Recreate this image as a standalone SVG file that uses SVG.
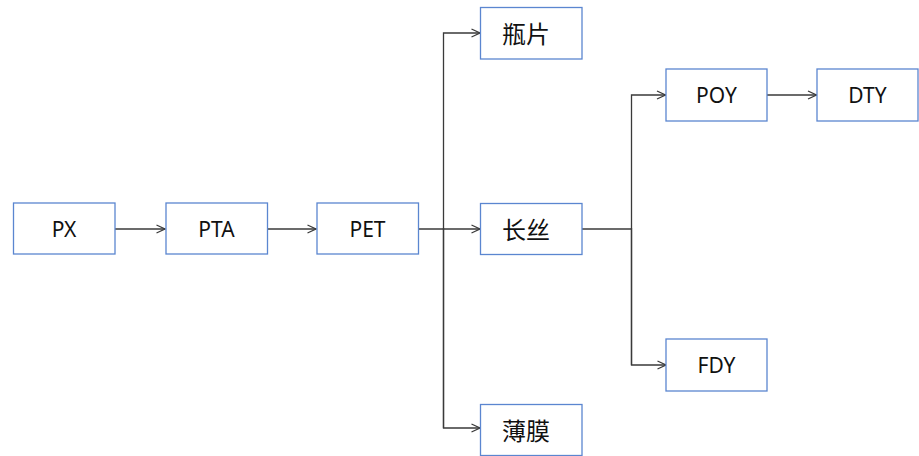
<svg xmlns="http://www.w3.org/2000/svg" width="919" height="456" viewBox="0 0 919 456">
<style>
.box{fill:#fff;stroke:#5b86d0;stroke-width:1.3}
.t{font-family:"Noto Sans","Noto Sans CJK SC",sans-serif;font-size:21px;fill:#111;text-anchor:middle;dominant-baseline:central}
.zh{font-size:24px}
.c{fill:none;stroke:#3a3a3a;stroke-width:1.3}
</style>
<defs>
<marker id="a" viewBox="0 0 10 10" refX="9.5" refY="5" markerWidth="10" markerHeight="10" markerUnits="userSpaceOnUse" orient="auto">
<path d="M1,1 L9.5,5 L1,9" fill="none" stroke="#3a3a3a" stroke-width="1.3"/>
</marker>
</defs>
<rect width="919" height="456" fill="#fff"/>
<g id="connectors">
<path class="c" d="M115,229 H165" marker-end="url(#a)"/>
<path class="c" d="M267,229 H316" marker-end="url(#a)"/>
<path class="c" d="M418,229 H480" marker-end="url(#a)"/>
<path class="c" d="M443.5,428 V33 H480" marker-end="url(#a)"/>
<path class="c" d="M443.5,228 V428 H480" marker-end="url(#a)"/>
<path class="c" d="M582,229 H631.5"/>
<path class="c" d="M631.5,365 V95 H665.5" marker-end="url(#a)"/>
<path class="c" d="M631.5,228 V365 H666" marker-end="url(#a)"/>
<path class="c" d="M767,95 H816.5" marker-end="url(#a)"/>
</g>
<g id="PX"><rect class="box" x="13.5" y="203" width="101.5" height="51"/><text class="t" x="64" y="229">PX</text></g>
<g id="PTA"><rect class="box" x="166" y="203" width="101.5" height="51"/><text class="t" x="216.5" y="229">PTA</text></g>
<g id="PET"><rect class="box" x="317" y="203" width="101.5" height="51"/><text class="t" x="367.5" y="229">PET</text></g>
<g id="pingpian"><rect class="box" x="480.5" y="7.5" width="101.5" height="51.5"/><text class="t zh" x="526" y="33">瓶片</text></g>
<g id="changsi"><rect class="box" x="480.5" y="203.5" width="101.5" height="51"/><text class="t zh" x="526" y="229">长丝</text></g>
<g id="bomo"><rect class="box" x="480.5" y="404.5" width="101.5" height="51"/><text class="t zh" x="526" y="430">薄膜</text></g>
<g id="POY"><rect class="box" x="666" y="69" width="101" height="52"/><text class="t" x="716.5" y="95">POY</text></g>
<g id="DTY"><rect class="box" x="817" y="69" width="101" height="52"/><text class="t" x="867.5" y="95">DTY</text></g>
<g id="FDY"><rect class="box" x="666" y="339" width="101" height="52"/><text class="t" x="716.5" y="365">FDY</text></g>
</svg>
